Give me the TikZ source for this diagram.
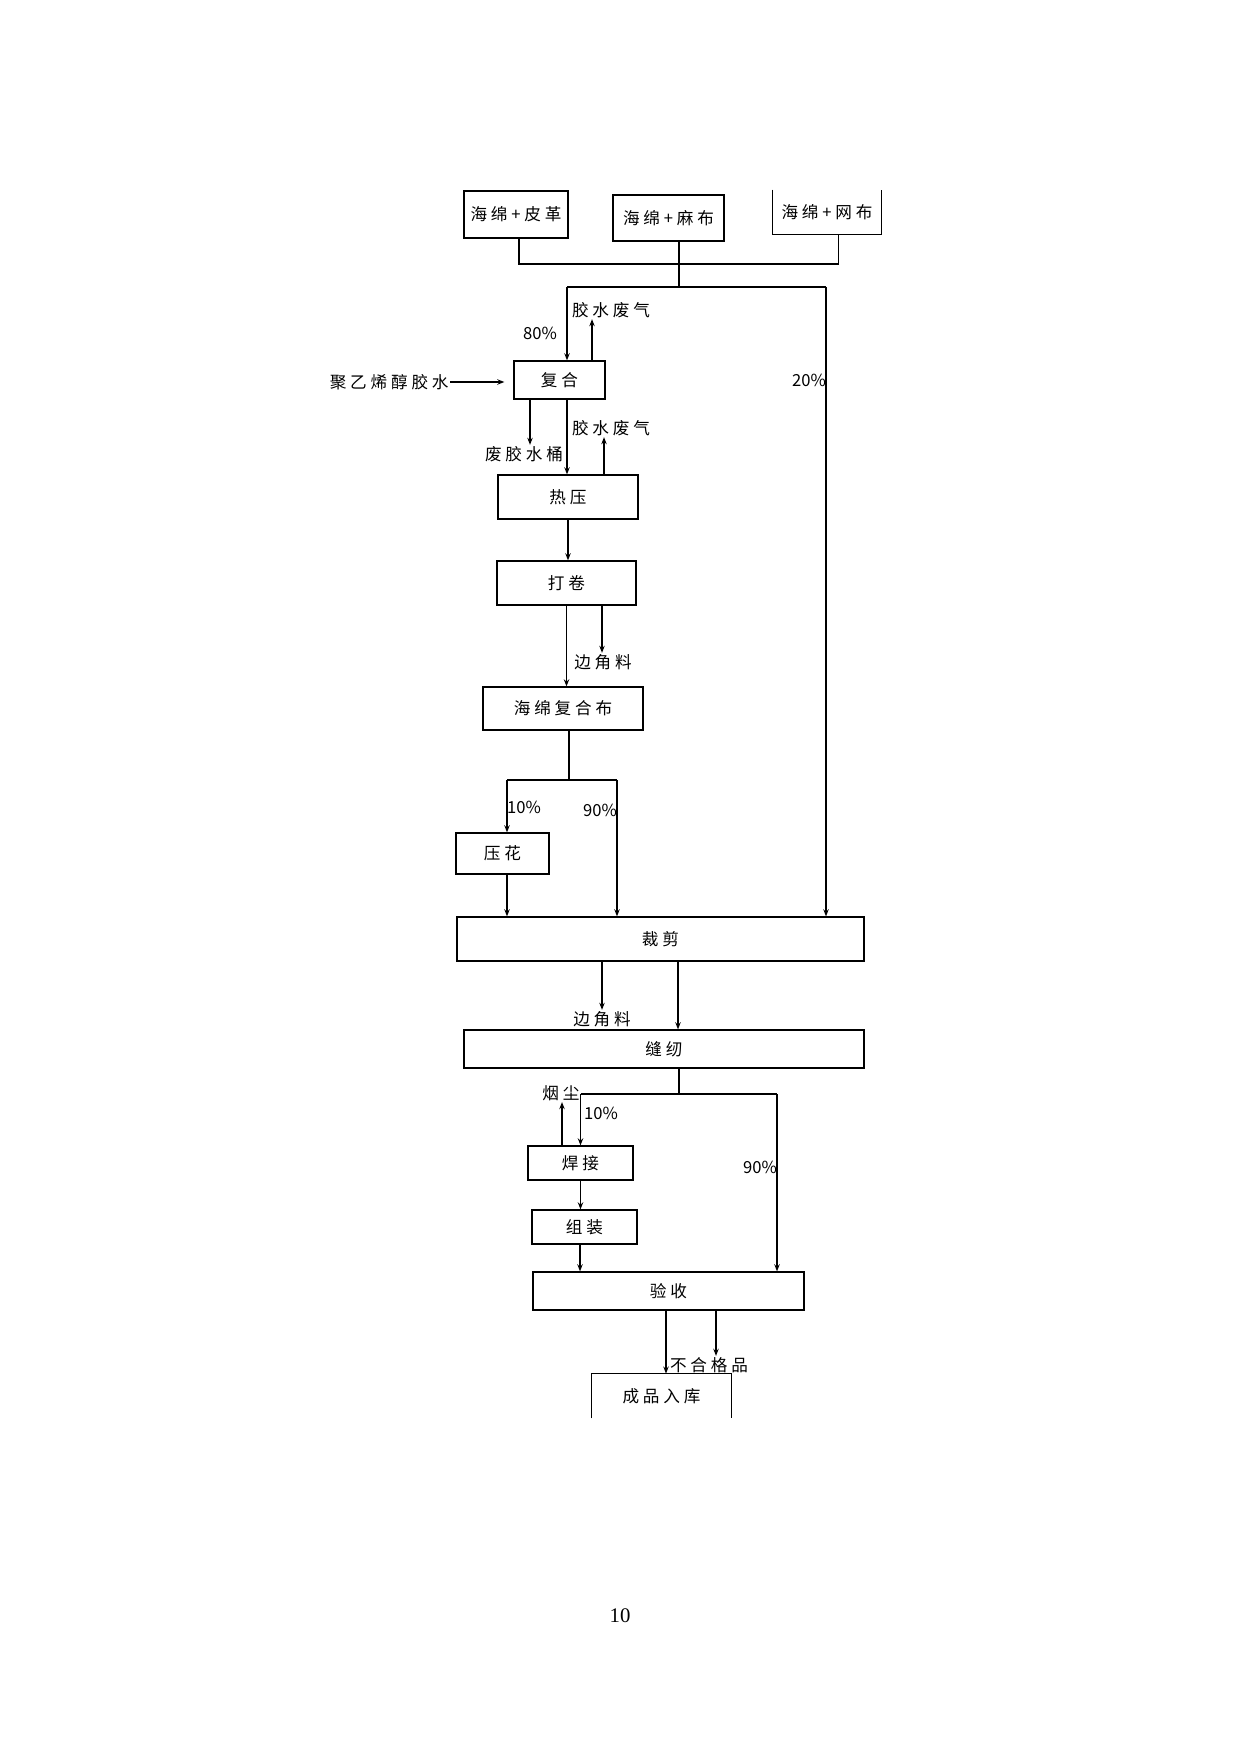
\documentclass[tikz,border=0pt]{standalone}
\usepackage{fontspec}
\usetikzlibrary{arrows.meta}
\newfontfamily\cjk{Noto Sans CJK SC}[LetterSpace=23]
\newfontfamily\cjknum{Noto Sans CJK SC}
\newfontfamily\pagefont{Liberation Serif}
\def\pxu{0.4818pt}
\tikzset{
  ln/.style={line width=0.6pt},
  arr/.style={line width=0.6pt,-{Stealth[length=3.4pt,width=2.6pt]}},
  bx/.style 2 args={draw,line width=0.6pt,inner sep=0pt,font=\cjk\fontsize{8pt}{10pt}\selectfont,
     minimum width=#1*\pxu,minimum height=#2*\pxu},
  obx/.style 2 args={inner sep=0pt,font=\cjk\fontsize{8pt}{10pt}\selectfont,
     minimum width=#1*\pxu,minimum height=#2*\pxu},
  lbl/.style={inner sep=0.5pt,font=\cjk\fontsize{8pt}{10pt}\selectfont},
  pct/.style={inner sep=0.5pt,font=\cjknum\fontsize{8pt}{10pt}\selectfont},
}
\begin{document}
\begin{tikzpicture}[x=0.4818pt,y=-0.4818pt]
\useasboundingbox[fill=white] (0,0) rectangle (1241,1754);
% boxes
\node[bx={104}{47}] (b1) at (516,214.5) {海绵+皮革};
\node[bx={111}{46}] (b2) at (668.5,218) {海绵+麻布};
\node[obx={108}{44}] (b3) at (827,212) {海绵+网布};
\draw[ln] (b3.north west) -- (b3.south west) -- (b3.south east) -- (b3.north east);
\node[bx={91}{38}] (fh) at (559.5,380) {复合};
\node[bx={140}{44}] (ry) at (568,497) {热压};
\node[bx={139}{44}] (dj) at (566.5,583) {打卷};
\node[bx={160}{43}] (hm) at (563,708.5) {海绵复合布};
\node[bx={93}{41}] (yh) at (502.5,853.5) {压花};
\node[bx={407}{44}] (cj) at (660.5,939) {裁剪};
\node[bx={400}{38}] (fr) at (664,1049) {缝纫};
\node[bx={105}{34}] (hj) at (580.5,1163) {焊接};
\node[bx={105}{34}] (zz) at (584.5,1227) {组装};
\node[bx={271}{38}] (ys) at (668.5,1291) {验收};
\node[obx={139}{44}] (cp) at (661.5,1396) {成品入库};
\draw[ln] (cp.south west) -- (cp.north west) -- (cp.north east) -- (cp.south east);
% labels
\node[lbl] (g1) at (611,310) {胶水废气};
\node[pct] (p80) at (540,333) {80\%};
\node[lbl,anchor=east] (glue) at (450,382) {聚乙烯醇胶水};
\node[lbl] (wb) at (524,454) {废胶水桶};
\node[lbl] (g2) at (611,428) {胶水废气};
\node[pct] (p20) at (809,380) {20\%};
\node[lbl] (e1) at (603,662) {边角料};
\node[pct] (p10a) at (524,807) {10\%};
\node[pct] (p90a) at (600,810) {90\%};
\node[lbl] (e2) at (602,1019) {边角料};
\node[lbl] (yc) at (561,1093) {烟尘};
\node[pct] (p10b) at (601,1113) {10\%};
\node[pct] (p90b) at (760,1167) {90\%};
\node[lbl] (bh) at (709,1365) {不合格品};
\node[inner sep=0pt,font=\pagefont\fontsize{10pt}{12pt}\selectfont] (pg) at (620,1616) {10};
% top bus
\coordinate (t1) at ([xshift=3*\pxu]b1.south);
\coordinate (t2) at ([xshift=10.5*\pxu]b2.south);
\coordinate (t3) at ([xshift=11.5*\pxu]b3.south);
\coordinate (bus) at (0,264);
\draw[ln] (t1) -- (t1|-bus) -- (t3|-bus) -- (t3);
\coordinate (split) at (0,287);
\coordinate (fhin) at ([xshift=7.5*\pxu]fh.north);
\coordinate (cjr) at ([xshift=165.5*\pxu]cj.north);
\draw[ln] (t2) -- (t2|-split);
\draw[ln] (fhin|-split) -- (cjr|-split);
\draw[arr] (fhin|-split) -- (fhin);
\draw[arr] (cjr|-split) -- (cjr);
% fuhe
\coordinate (u1) at ([xshift=32.5*\pxu]fh.north);
\draw[arr] (u1) -- (u1|-g1.south);
\draw[arr,shorten >=9*\pxu] (glue.east) -- (glue.east-|fh.west);
\coordinate (w1) at ([xshift=-29.5*\pxu]fh.south);
\draw[arr] (w1) -- (w1|-wb.north);
\coordinate (m1) at ([xshift=7.5*\pxu]fh.south);
\draw[arr] (m1) -- (m1|-ry.north);
\coordinate (u2) at ([xshift=36*\pxu]ry.north);
\draw[arr] (u2) -- (u2|-g2.south);
\draw[arr] (ry.south) -- (ry.south|-dj.north);
\coordinate (m2) at (dj.south);
\draw[arr] (m2) -- (m2|-hm.north);
\coordinate (s1) at ([xshift=35.5*\pxu]dj.south);
\draw[arr] (s1) -- (s1|-e1.north);
% split after hm
\coordinate (m3) at ([xshift=6*\pxu]hm.south);
\coordinate (sp2) at (0,780);
\coordinate (yhin) at ([xshift=4.5*\pxu]yh.north);
\coordinate (cj90) at ([xshift=-43.5*\pxu]cj.north);
\draw[ln] (m3) -- (m3|-sp2);
\draw[ln] (yhin|-sp2) -- (cj90|-sp2);
\draw[arr] (yhin|-sp2) -- (yhin);
\draw[arr] (cj90|-sp2) -- (cj90);
\coordinate (m4) at ([xshift=4.5*\pxu]yh.south);
\draw[arr] (m4) -- (m4|-cj.north);
% cj to fr
\coordinate (s2) at ([xshift=-58.5*\pxu]cj.south);
\draw[arr] (s2) -- (s2|-e2.north);
\coordinate (m5) at ([xshift=17.5*\pxu]cj.south);
\draw[arr] (m5) -- (m5|-fr.north);
% split after fr
\coordinate (m6) at ([xshift=15*\pxu]fr.south);
\coordinate (sp3) at (0,1094);
\coordinate (hjin) at (hj.north);
\coordinate (ys90) at ([xshift=108.5*\pxu]ys.north);
\draw[ln] (m6) -- (m6|-sp3);
\draw[ln] (hjin|-sp3) -- (ys90|-sp3);
\draw[arr] (hjin|-sp3) -- (hjin);
\draw[arr] (ys90|-sp3) -- (ys90);
\coordinate (u3) at ([xshift=-18.5*\pxu]hj.north);
\draw[arr] (u3) -- (u3|-yc.south);
\draw[arr] (hj.south) -- (hj.south|-zz.north);
\coordinate (m7) at ([xshift=-4.5*\pxu]zz.south);
\draw[arr] (m7) -- (m7|-ys.north);
% ys to cp
\coordinate (m8) at ([xshift=-2.5*\pxu]ys.south);
\draw[arr] (m8) -- (m8|-cp.north);
\coordinate (s3) at ([xshift=47.5*\pxu]ys.south);
\draw[arr] (s3) -- (s3|-bh.north);
\end{tikzpicture}
\end{document}
